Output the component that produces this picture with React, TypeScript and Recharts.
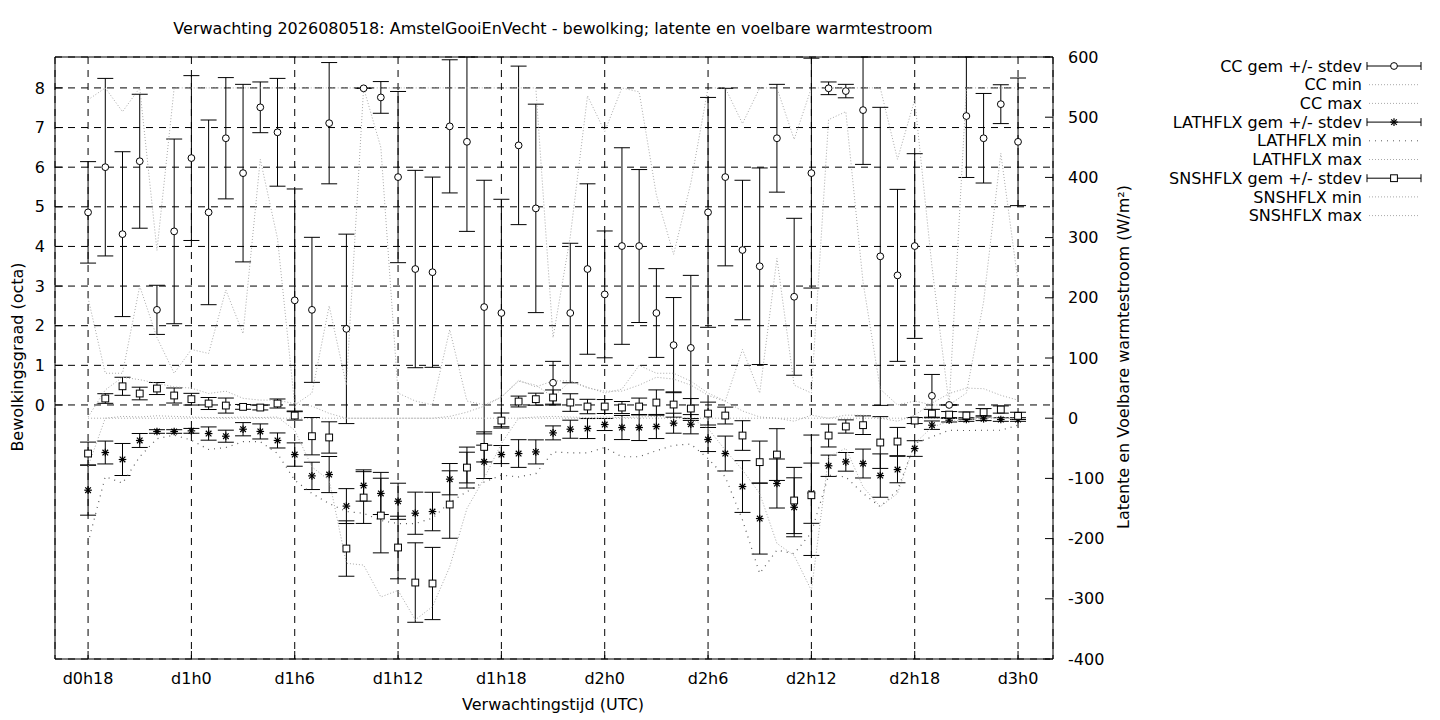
import React from "react";
import {
  ComposedChart,
  XAxis,
  YAxis,
  CartesianGrid,
  Scatter,
  Line,
  ErrorBar,
  ReferenceArea,
} from "recharts";

const hours = [
  18, 19, 20, 21, 22, 23, 24, 25, 26, 27, 28, 29, 30, 31, 32, 33, 34, 35, 36, 37,
  38, 39, 40, 41, 42, 43, 44, 45, 46, 47, 48, 49, 50, 51, 52, 53, 54, 55, 56, 57,
  58, 59, 60, 61, 62, 63, 64, 65, 66, 67, 68, 69, 70, 71, 72,
];

const xTicks = [18, 24, 30, 36, 42, 48, 54, 60, 66, 72];
const ccTicks = [0, 1, 2, 3, 4, 5, 6, 7, 8];
const flxTicks = [-400, -300, -200, -100, 0, 100, 200, 300, 400, 500, 600];

const ccMean = [
  4.86, 6.0, 4.31, 6.15, 2.4, 4.38, 6.23, 4.86, 6.73, 5.85, 7.51, 6.88, 2.64, 2.4,
  7.11, 1.92, 7.99, 7.76, 5.75, 3.43, 3.35, 7.03, 6.64, 2.47, 2.32, 6.55, 4.96,
  0.56, 2.32, 3.43, 2.79, 4.01, 4.01, 2.32, 1.51, 1.44, 4.86, 5.75, 3.91, 3.5, 6.73,
  2.73, 5.85, 7.99, 7.92, 7.44, 3.75, 3.27, 4.01, 0.23, 0.0, 7.29, 6.73, 7.59, 6.64,
];
const ccSd = [
  1.28, 2.24, 2.08, 1.69, 0.62, 2.33, 2.08, 2.33, 1.53, 2.24, 0.64, 1.36, 2.81, 1.83,
  1.53, 2.39, 0.0, 0.4, 2.16, 2.49, 2.4, 1.68, 2.26, 3.2, 2.87, 2.0, 2.63, 0.54, 1.76,
  2.15, 1.6, 2.48, 1.93, 1.12, 1.2, 1.83, 2.9, 2.24, 1.76, 2.48, 1.36, 1.98, 2.9,
  0.16, 0.17, 1.37, 3.76, 2.17, 2.33, 0.54, 0.0, 1.55, 1.13, 0.49, 1.61,
];
const ccMin = [
  2.7, 0.8, 0.8, 3.0, 1.7, 0.8, 1.4, 1.3, 2.9, 1.8, 6.2, 4.2, 0.0, 0.3, 2.5, 0.5,
  8.0, 6.5, 0.3, 0.1, 0.0, 1.9, 0.1, 0.0, 0.2, 0.6, 0.5, 0.2, 0.6, 0.45, 0.3, 0.4,
  1.0, 0.8, 0.8, 0.6, 0.3, 0.1, 1.4, 0.3, 3.7, 0.5, 0.3, 7.2, 7.4, 3.1, 0.4, 0.0,
  0.1, 0.0, 0.0, 0.3, 2.6, 6.35, 3.1,
];
const ccMax = [
  7.7, 8, 7.4, 8, 3.9, 8, 8, 8, 8, 8, 8, 8, 8, 8, 8, 8, 8, 8, 8, 8, 8, 8, 8, 8, 8, 8,
  8, 1.7, 4.25, 7.8, 6.9, 8, 7.9, 5.3, 3.8, 5.6, 8, 8, 7.1, 8, 8, 6.7, 8, 8, 8, 8, 8,
  6.2, 7.7, 3.5, 0, 8, 8, 8, 8,
];

const latMean = [
  -119.6, -57, -68.6, -37, -22.1, -22.1, -21, -25.5, -29.9, -18.3, -22, -37, -60.4,
  -95.8, -93.6, -146, -111.8, -125, -138, -157.8, -155, -101.3, -82, -72.5, -60.4,
  -58.7, -56, -24.4, -18.3, -17.2, -10.5, -15.5, -15.5, -13.8, -8.3, -10, -35.4,
  -58.7, -113.5, -166.7, -108.5, -148, -124.6, -79, -72.5, -75.3, -95.3, -85.3,
  -50.4, -11.6, -3.3, -2.2, -1, -2.2, -2.2,
];
const latSd = [
  41.5, 19, 26.6, 11.6, 3, 3, 4, 11, 10, 11, 12.5, 12.5, 19.4, 22.7, 30, 29, 26, 35,
  30, 35, 32, 26, 25.5, 27.7, 15, 23, 20, 11.6, 15, 16.6, 10, 20, 21.6, 20, 16.6, 16,
  20, 29, 43, 59, 40.7, 49, 50, 17.7, 15.5, 24, 36, 22, 13, 7, 3, 3, 3, 3, 3,
];
const latMin = [
  -207, -97, -108, -64, -34, -28, -36.5, -52, -48.7, -39, -39, -58.7, -103, -125,
  -141.7, -155, -158, -170, -175, -175, -166, -140, -122, -106, -94.7, -97.5, -92,
  -56, -57.6, -57.6, -48.7, -64, -64, -54, -45, -43, -67, -97.5, -169, -258, -219,
  -225, -190, -94.7, -97.5, -125, -147, -119.6, -42, -31, -20, -20.5, -20, -20, -11.6,
];
const latMax = [
  0, 0, 0, 0, 0, 0, 0, 0, 0, 0, 0, 0, 0, 0, 0, 0, 0, 0, 0, 0, 0, 0, 0, 0, 0, 0, 0, 0,
  0, 0, 0, 0, 0, 0, 0, 0, 0, 0, 0, 0, 0, 0, 0, 0, 0, 0, 0, 0, 0, 0, 0, 0, 0, 0, 0,
];

const snsMean = [
  -58.7, 32.7, 53, 41, 49.3, 37.7, 31.6, 24.4, 21, 18.8, 17.7, 24.4, 4.4, -29.9, -32,
  -216.5, -131.8, -161.7, -214.8, -273, -274.6, -143.4, -82, -47.7, -3.9, 27.7, 31.6,
  34.4, 26, 19.4, 19.4, 17.7, 19.4, 26, 22.7, 16, 7.7, 4.4, -28.8, -73, -60.4,
  -136.7, -128, -28.8, -13.8, -11.6, -40.4, -38.8, -3.9, 7.7, 6, 4.4, 10, 14.4, 3.9,
];
const snsSd = [
  19, 8, 15, 10.5, 10, 12.5, 9.7, 10, 12.5, 4, 4, 7.5, 7.5, 31, 26, 46, 43, 62, 52,
  66, 60, 56, 34, 25, 12.5, 9, 10, 12.5, 14.6, 12, 11.6, 10, 14, 21, 21, 16.6, 19, 14,
  24.6, 35, 43, 55, 100, 19, 11, 15.5, 43, 23.5, 5, 7, 5, 6, 6, 6, 6,
];
const snsMin = [
  -80, 0, 3, 2, 4, 3, 2, 1, 1, 2, 1, 2, -20, -81, -103, -241, -244, -297, -286, -335,
  -313, -247, -150, -100, -42, 0, 2, 3, 2, 1, 2, 1, 2, 3, 2, 0, -17, -53, -86, -125,
  -208, -228, -286, -64, -50, -114, -147, -125, -42, -15, -5, -3, 0, 2, -3,
];
const snsMax = [
  2, 47, 68, 64, 58, 52, 50, 41, 45, 33, 30, 30, 24, 20, 8, 0, 0, 0, 0, 0, 0, 3, 10,
  20, 35, 63, 52, 62, 62, 50, 45, 45, 55, 68, 65, 55, 38, 28, 12, 2, 0, -5, 5, 0, 5,
  5, 0, -5, 5, 25, 41, 50, 49, 38, 30,
];

const rows = hours.map((h, i) => ({
  h,
  cc: ccMean[i],
  ccSd: ccSd[i],
  ccMin: ccMin[i],
  ccMax: ccMax[i],
  lat: latMean[i],
  latSd: latSd[i],
  latMin: latMin[i],
  latMax: latMax[i],
  sns: snsMean[i],
  snsSd: snsSd[i],
  snsMin: snsMin[i],
  snsMax: snsMax[i],
}));

const FONT = "'DejaVu Sans', sans-serif";
const LIGHT = "#a9a9a9";
const DARK = "#5a5a5a";

const xDomain = [16.08, 74.03];
const ccDomain = [-6.41, 8.78];
const flxDomain = [-400, 600];

const fmtX = (h: number) => `d${Math.floor(h / 24)}h${h % 24}`;

// error bars are cut off at the plot frame, as in the reference
const clippedErr = (meanKey: string, sdKey: string, dom: number[]) => (d: any) => [
  Math.min(d[sdKey], d[meanKey] - dom[0]),
  Math.min(d[sdKey], dom[1] - d[meanKey]),
];

const CircleShape = (p: any) =>
  p.cx == null ? null : (
    <circle cx={p.cx} cy={p.cy} r={3.4} fill="#fff" stroke="#000" strokeWidth={1} />
  );
const SquareShape = (p: any) =>
  p.cx == null ? null : (
    <rect x={p.cx - 3.4} y={p.cy - 3.4} width={6.8} height={6.8} fill="#fff" stroke="#000" strokeWidth={1} />
  );
const StarShape = (p: any) =>
  p.cx == null ? null : (
    <g stroke="#000" strokeWidth={1.2}>
      <line x1={p.cx - 3.8} y1={p.cy} x2={p.cx + 3.8} y2={p.cy} />
      <line x1={p.cx} y1={p.cy - 3.8} x2={p.cx} y2={p.cy + 3.8} />
      <line x1={p.cx - 2.8} y1={p.cy - 2.8} x2={p.cx + 2.8} y2={p.cy + 2.8} />
      <line x1={p.cx - 2.8} y1={p.cy + 2.8} x2={p.cx + 2.8} y2={p.cy - 2.8} />
    </g>
  );

const legendItems = [
  { label: "CC gem +/- stdev", kind: "circle" },
  { label: "CC min", kind: "light" },
  { label: "CC max", kind: "light" },
  { label: "LATHFLX gem +/- stdev", kind: "star" },
  { label: "LATHFLX min", kind: "dark" },
  { label: "LATHFLX max", kind: "light" },
  { label: "SNSHFLX gem +/- stdev", kind: "square" },
  { label: "SNSHFLX min", kind: "light" },
  { label: "SNSHFLX max", kind: "light" },
];

function LegendBox() {
  const x0 = 1360;
  const y0 = 58;
  const dy = 18.7;
  return (
    <svg
      width={1424}
      height={240}
      style={{ position: "absolute", left: 0, top: 0, pointerEvents: "none" }}
    >
      {legendItems.map((it, i) => {
        const y = y0 + i * dy;
        const lx1 = x0 - 1;
        const lx2 = x0 + 53;
        const cx = (lx1 + lx2) / 2;
        let sample: React.ReactNode = null;
        if (it.kind === "light" || it.kind === "dark") {
          sample = (
            <line
              x1={lx1 + 2}
              y1={y}
              x2={lx2 - 2}
              y2={y}
              stroke={it.kind === "dark" ? DARK : LIGHT}
              strokeDasharray={it.kind === "dark" ? "1 5" : "1 2"}
            />
          );
        } else {
          sample = (
            <g>
              <line x1={lx1} y1={y} x2={lx2} y2={y} stroke="#000" />
              <line x1={lx1} y1={y - 4} x2={lx1} y2={y + 4} stroke="#000" />
              <line x1={lx2} y1={y - 4} x2={lx2} y2={y + 4} stroke="#000" />
              {it.kind === "circle" && CircleShape({ cx, cy: y })}
              {it.kind === "square" && SquareShape({ cx, cy: y })}
              {it.kind === "star" && StarShape({ cx, cy: y })}
            </g>
          );
        }
        return (
          <g key={it.label}>
            <text
              x={x0 - 6}
              y={y}
              dy="0.35em"
              textAnchor="end"
              fontFamily={FONT}
              fontSize={16}
              fill="#000"
            >
              {it.label}
            </text>
            {sample}
          </g>
        );
      })}
    </svg>
  );
}

const textStyle: React.CSSProperties = {
  position: "absolute",
  fontFamily: FONT,
  fontSize: 16,
  color: "#000",
  whiteSpace: "nowrap",
  lineHeight: "16px",
};

export default function App() {
  return (
    <div style={{ position: "relative", width: 1424, height: 712 }}>
      <ComposedChart
        width={1424}
        height={704}
        data={rows}
        margin={{ top: 49, right: 319, bottom: 0, left: 0 }}
      >
        <XAxis
          xAxisId="x"
          dataKey="h"
          type="number"
          domain={xDomain}
          ticks={xTicks}
          tickFormatter={fmtX}
          allowDataOverflow
          axisLine={false}
          tickSize={-8}
          tickMargin={22}
          height={53}
          tick={{ fill: "#000", fontSize: 16, fontFamily: FONT }}
          tickLine={{ stroke: "#000" }}
          interval={0}
        />
        <YAxis
          yAxisId="cc"
          orientation="left"
          type="number"
          domain={ccDomain}
          ticks={ccTicks}
          allowDataOverflow
          axisLine={false}
          width={47}
          tickSize={-8}
          tickMargin={18}
          tick={{ fill: "#000", fontSize: 16, fontFamily: FONT }}
          tickLine={{ stroke: "#000" }}
          interval={0}
        />
        <YAxis
          yAxisId="flx"
          orientation="right"
          type="number"
          domain={flxDomain}
          ticks={flxTicks}
          allowDataOverflow
          axisLine={false}
          width={60}
          tickSize={-8}
          tickMargin={23}
          tick={{ fill: "#000", fontSize: 16, fontFamily: FONT, textAnchor: "start" }}
          tickLine={{ stroke: "#000" }}
          interval={0}
        />
        <CartesianGrid
          xAxisId="x"
          yAxisId="cc"
          stroke="#000"
          strokeDasharray="7 6"
          strokeWidth={1}
        />

        <Scatter
          xAxisId="x"
          yAxisId="cc"
          dataKey="cc"
          shape={CircleShape}
          isAnimationActive={false}
        >
          <ErrorBar
            dataKey={clippedErr("cc", "ccSd", ccDomain)}
            direction="y"
            width={8}
            stroke="#000"
            strokeWidth={1}
          />
        </Scatter>
        <Line xAxisId="x" yAxisId="cc" dataKey="ccMin" stroke={LIGHT} strokeDasharray="1 2" dot={false} activeDot={false} isAnimationActive={false} strokeWidth={1} />
        <Line xAxisId="x" yAxisId="cc" dataKey="ccMax" stroke={LIGHT} strokeDasharray="1 2" dot={false} activeDot={false} isAnimationActive={false} strokeWidth={1} />

        <Scatter
          xAxisId="x"
          yAxisId="flx"
          dataKey="lat"
          shape={StarShape}
          isAnimationActive={false}
        >
          <ErrorBar
            dataKey={clippedErr("lat", "latSd", flxDomain)}
            direction="y"
            width={8}
            stroke="#000"
            strokeWidth={1}
          />
        </Scatter>
        <Line xAxisId="x" yAxisId="flx" dataKey="latMin" stroke={DARK} strokeDasharray="1 5" dot={false} activeDot={false} isAnimationActive={false} strokeWidth={1.2} />
        <Line xAxisId="x" yAxisId="flx" dataKey="latMax" stroke={LIGHT} strokeDasharray="1 2" dot={false} activeDot={false} isAnimationActive={false} strokeWidth={1} />

        <Scatter
          xAxisId="x"
          yAxisId="flx"
          dataKey="sns"
          shape={SquareShape}
          isAnimationActive={false}
        >
          <ErrorBar
            dataKey={clippedErr("sns", "snsSd", flxDomain)}
            direction="y"
            width={8}
            stroke="#000"
            strokeWidth={1}
          />
        </Scatter>
        <Line xAxisId="x" yAxisId="flx" dataKey="snsMin" stroke={LIGHT} strokeDasharray="1 2" dot={false} activeDot={false} isAnimationActive={false} strokeWidth={1} />
        <Line xAxisId="x" yAxisId="flx" dataKey="snsMax" stroke={LIGHT} strokeDasharray="1 2" dot={false} activeDot={false} isAnimationActive={false} strokeWidth={1} />

        <ReferenceArea
          xAxisId="x"
          yAxisId="cc"
          x1={xDomain[0]}
          x2={xDomain[1]}
          y1={ccDomain[0]}
          y2={ccDomain[1]}
          fill="none"
          fillOpacity={0}
          stroke="#000"
          strokeWidth={1}
          ifOverflow="visible"
        />
      </ComposedChart>

      <div style={{ ...textStyle, left: 545, top: 21, transform: "translate(-50%, -50%)" }}>
        Verwachting 2026080518: AmstelGooiEnVecht - bewolking; latente en voelbare warmtestroom
      </div>
      <div style={{ ...textStyle, left: 545, top: 697, transform: "translate(-50%, -50%)" }}>
        Verwachtingstijd (UTC)
      </div>
      <div
        style={{
          ...textStyle,
          left: 10,
          top: 349,
          transform: "translate(-50%, -50%) rotate(-90deg)",
        }}
      >
        Bewolkingsgraad (octa)
      </div>
      <div
        style={{
          ...textStyle,
          left: 1116,
          top: 349,
          transform: "translate(-50%, -50%) rotate(-90deg)",
        }}
      >
        Latente en Voelbare warmtestroom (W/m²)
      </div>
      <LegendBox />
    </div>
  );
}
